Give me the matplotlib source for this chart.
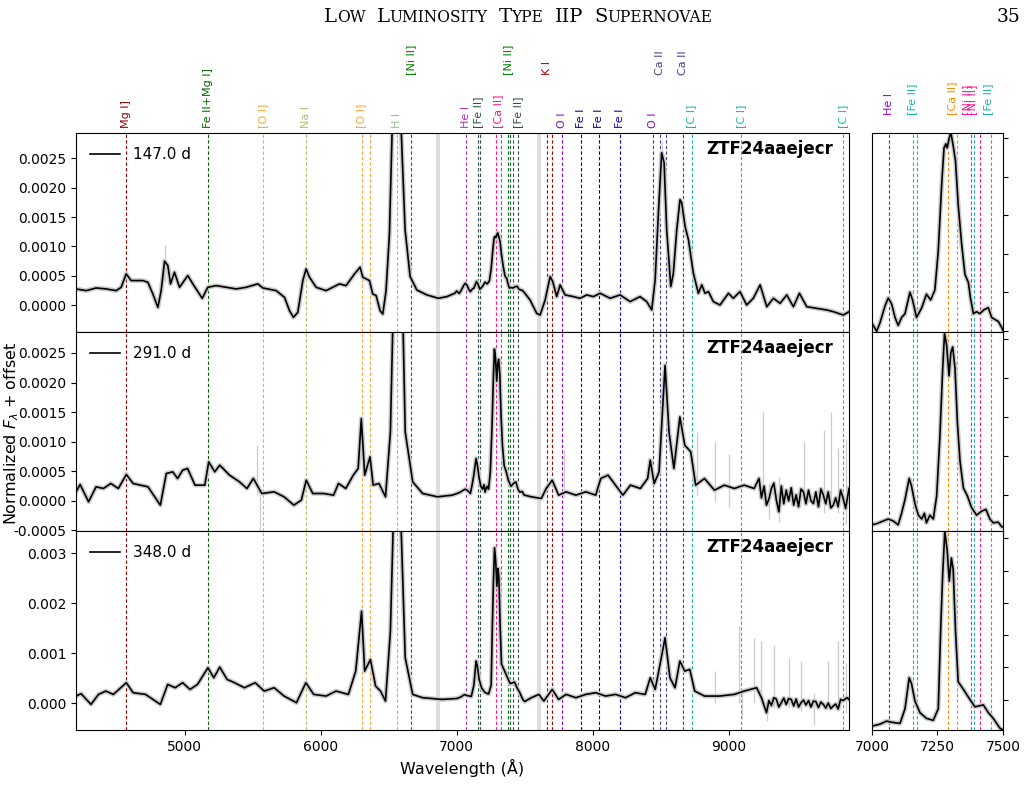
import numpy as np
import matplotlib.pyplot as plt
from matplotlib.ticker import MultipleLocator, FormatStrFormatter
import matplotlib.transforms as mtransforms

# Spectra, (wavelength [A], normalized flux [1e-4])
spec_147 = [
    (4200, 2.74), (4275, 2.45), (4348, 2.91), (4422, 2.74), (4495, 2.45), (4532, 3.02),
    (4569, 5.31), (4605, 4.17), (4691, 4.17), (4728, 3.88), (4765, 1.88), (4802, -0.40),
    (4826, 2.45), (4851, 7.48), (4875, 6.73), (4895, 3.60), (4924, 5.59), (4961, 3.02),
    (5022, 5.02), (5059, 3.60), (5128, 1.14), (5169, 3.02), (5231, 3.31), (5304, 3.02),
    (5378, 2.74), (5451, 3.02), (5537, 3.60), (5574, 2.91), (5672, 2.45), (5733, 1.31),
    (5770, -0.97), (5799, -2.11), (5831, -1.25), (5868, 4.17), (5892, 6.16), (5917, 4.74),
    (5966, 3.02), (6039, 2.45), (6137, 3.60), (6186, 3.31), (6248, 5.31), (6289, 6.45),
    (6309, 4.74), (6358, 4.17), (6382, 1.88), (6407, 1.60), (6436, -0.97), (6456, -1.54),
    (6480, 2.45), (6505, 12.16), (6525, 30.0), (6550, 60.0), (6570, 62.0), (6591, 30.0),
    (6620, 12.85), (6657, 4.86), (6706, 2.57), (6780, 1.72), (6865, 1.15), (6927, 1.43),
    (6985, 2.00),
    (7000, 2.39), (7018, 1.98), (7030, 2.39), (7050, 3.30), (7062, 3.70), (7075, 3.40),
    (7088, 2.69), (7100, 2.28), (7113, 2.69), (7126, 2.89), (7145, 4.00), (7155, 3.60),
    (7170, 2.69), (7190, 3.20), (7208, 3.90), (7224, 3.60), (7240, 4.11), (7253, 6.13),
    (7266, 9.57), (7275, 11.49), (7282, 11.70), (7287, 11.49), (7295, 12.00), (7301, 12.30),
    (7310, 11.60), (7319, 10.79), (7329, 8.56), (7342, 6.54), (7355, 4.92), (7368, 4.51),
    (7376, 3.70), (7387, 2.89), (7399, 2.99), (7412, 2.89), (7427, 3.09), (7444, 3.20),
    (7457, 2.69), (7469, 2.59), (7482, 2.49), (7495, 2.18),
    (7539, 0.86), (7588, -1.42), (7613, -1.71), (7650, 0.86), (7687, 4.86), (7706, 4.00),
    (7735, 1.43), (7760, 3.43), (7797, 1.72), (7858, 1.43), (7907, 1.15), (7956, 1.72),
    (8005, 1.43), (8054, 2.00), (8128, 1.15), (8201, 1.72), (8275, 0.58), (8348, 1.43),
    (8397, 0.58), (8434, -0.85), (8459, 4.29), (8483, 15.70), (8507, 25.97), (8525, 24.26),
    (8544, 12.85), (8574, 3.14), (8593, 5.43), (8618, 12.85), (8642, 17.98), (8655, 17.41),
    (8679, 13.42), (8704, 11.13), (8740, 5.43), (8777, 2.00), (8802, 3.43), (8826, 2.00),
    (8851, 2.29), (8887, 0.58), (8936, 0.00), (8998, 2.00), (9034, 1.15), (9083, 2.29),
    (9132, 0.00), (9181, 1.15), (9231, 3.43), (9280, -0.29), (9329, 1.15), (9378, 0.29),
    (9427, 1.72), (9476, -0.29), (9520, 2.00), (9574, -0.29), (9647, -0.57), (9721, -0.85),
    (9770, -1.14), (9843, -1.71), (9885, -1.14),
]

spec_291 = [
    (4200, 1.52), (4230, 2.76), (4292, -0.17), (4347, 2.37), (4401, 2.09), (4456, 2.93),
    (4511, 2.09), (4570, 4.45), (4620, 2.93), (4729, 2.37), (4820, -0.73), (4864, 4.62),
    (4911, 4.90), (4947, 3.78), (4984, 5.18), (5020, 5.47), (5075, 2.65), (5147, 2.65),
    (5176, 6.59), (5220, 4.90), (5257, 6.03), (5329, 4.34), (5402, 3.21), (5457, 2.09),
    (5504, 3.78), (5566, 1.24), (5657, 1.52), (5730, 0.68), (5802, -0.73), (5857, 0.12),
    (5893, 3.49), (5941, 1.24), (6021, 1.24), (6094, 0.96), (6130, 2.93), (6184, 2.09),
    (6239, 4.34), (6275, 5.47), (6298, 13.91), (6323, 4.34), (6362, 7.44), (6385, 2.65),
    (6428, 2.93), (6476, 0.68), (6512, 11.66), (6535, 35.0), (6562, 60.0), (6600, 35.0),
    (6621, 11.66), (6676, 3.21), (6749, 1.24), (6858, 0.68), (6967, 0.96),
    (7000, 1.23), (7018, 1.38), (7043, 1.72), (7062, 1.97), (7081, 1.72), (7100, 1.23),
    (7113, 2.71), (7126, 4.44), (7142, 7.15), (7151, 6.16), (7164, 3.94), (7177, 2.46),
    (7190, 1.97), (7200, 2.71), (7208, 1.48), (7221, 2.46), (7234, 1.97), (7247, 4.93),
    (7259, 12.33), (7270, 21.21), (7277, 25.65), (7285, 24.17), (7294, 20.23), (7301, 23.19),
    (7308, 23.93), (7317, 21.21), (7326, 14.30), (7336, 9.37), (7349, 5.92), (7364, 4.93),
    (7380, 3.45), (7399, 2.46), (7418, 2.96), (7435, 3.20), (7450, 1.97), (7463, 1.48),
    (7482, 1.57), (7495, 0.98),
    (7549, 0.68), (7622, 0.40), (7658, 2.09), (7702, 3.49), (7749, 0.96), (7804, 1.52),
    (7876, 0.96), (7949, 1.52), (8022, 0.96), (8059, 3.78), (8113, 4.34), (8168, 2.65),
    (8222, 0.96), (8277, 2.65), (8350, 2.09), (8404, 3.78), (8423, 6.87), (8452, 2.93),
    (8488, 4.90), (8532, 22.92), (8561, 11.66), (8597, 5.47), (8641, 14.19), (8677, 9.40),
    (8721, 8.28), (8757, 2.65), (8822, 3.78), (8895, 1.80), (8968, 2.65), (9041, 2.09),
    (9114, 2.65), (9187, 2.09), (9223, 3.78), (9241, 0.50), (9260, 2.50), (9278, -0.73),
    (9296, 0.30), (9314, 2.09), (9332, 3.00), (9350, 0.20), (9369, -1.86), (9387, 2.50),
    (9405, -0.50), (9423, 1.80), (9441, 0.00), (9460, 2.20), (9478, -0.73), (9496, 1.00),
    (9514, -1.00), (9532, 2.00), (9550, 1.52), (9568, -0.50), (9587, 1.80), (9605, 0.00),
    (9623, -0.45), (9641, 1.50), (9660, -1.00), (9678, 2.00), (9696, 0.96), (9714, -0.50),
    (9732, 1.50), (9751, -1.20), (9769, -0.73), (9787, 0.50), (9805, -1.00), (9823, 1.80),
    (9841, 0.50), (9860, -1.30), (9885, 2.09),
]

spec_348 = [
    (4200, 1.40), (4237, 1.87), (4310, -0.27), (4365, 1.73), (4419, 2.40), (4474, 1.73),
    (4570, 4.07), (4620, 2.07), (4711, 1.73), (4820, -0.27), (4874, 3.73), (4929, 3.07),
    (4984, 4.07), (5038, 2.73), (5093, 3.73), (5170, 7.07), (5213, 5.07), (5257, 7.20),
    (5311, 4.73), (5366, 4.07), (5438, 3.07), (5518, 4.07), (5584, 2.40), (5657, 3.07),
    (5730, 1.40), (5821, 0.07), (5890, 4.07), (5948, 1.73), (6039, 1.40), (6112, 2.40),
    (6203, 1.73), (6257, 6.40), (6300, 18.40), (6323, 6.40), (6365, 8.73), (6403, 3.40),
    (6439, 2.40), (6476, 0.40), (6512, 14.40), (6537, 40.0), (6562, 70.0), (6585, 40.0),
    (6621, 9.07), (6676, 1.73), (6749, 1.07), (6894, 0.73),
    (7000, 0.91), (7030, 1.21), (7056, 1.69), (7075, 1.51), (7107, 1.33), (7126, 3.60),
    (7142, 8.40), (7151, 7.50), (7164, 4.80), (7183, 3.01), (7208, 2.11), (7234, 1.81),
    (7253, 3.60), (7262, 15.58), (7270, 24.57), (7278, 31.10), (7287, 28.16), (7295, 23.37),
    (7303, 26.97), (7310, 25.17), (7319, 15.58), (7329, 7.80), (7349, 6.60), (7368, 5.40),
    (7393, 3.90), (7425, 4.20), (7444, 3.01), (7463, 2.11), (7488, 0.61), (7500, 0.31),
    (7549, 1.07), (7604, 1.73), (7640, 0.40), (7702, 2.73), (7749, 0.73), (7804, 1.73),
    (7876, 1.07), (7949, 1.73), (8022, 2.07), (8095, 1.40), (8168, 1.73), (8241, 1.07),
    (8313, 2.07), (8386, 1.73), (8423, 5.07), (8459, 2.73), (8495, 7.73), (8532, 13.07),
    (8568, 5.07), (8605, 3.07), (8641, 8.40), (8677, 6.40), (8714, 6.73), (8750, 2.40),
    (8822, 1.40), (8932, 1.40), (9041, 1.73), (9114, 2.40), (9205, 3.07), (9241, 1.07),
    (9278, -1.93), (9296, 0.50), (9314, -0.50), (9332, 1.07), (9350, 0.80), (9369, -0.80),
    (9387, 0.07), (9405, 1.00), (9423, -0.30), (9441, 0.90), (9460, 0.73), (9478, -0.60),
    (9496, 0.80), (9514, -0.80), (9532, 0.07), (9550, 0.60), (9568, -0.40), (9587, 0.50),
    (9605, -0.80), (9623, 0.40), (9641, 0.30), (9660, -0.90), (9678, 0.20), (9696, -0.27),
    (9714, -1.00), (9732, 0.00), (9751, -1.10), (9769, -0.60), (9787, -0.20), (9805, -1.20),
    (9823, 0.73), (9841, 0.50), (9870, 1.07), (9885, 0.73),
]

# noisy excursions of the raw spectra, (wavelength, high, low) [1e-4]
spikes_147 = [(4851, 10.2, 4.0), (6300, 7.5, 4.5), (8510, 28.0, 22.0)]
spikes_291 = [
    (5530, 9.4, 1.0), (5556, 2.0, -5.1), (7786, 8.6, 0.5), (8769, 11.7, 1.0),
    (8900, 10.0, 0.0), (9000, 8.0, -1.0), (9253, 15.0, 0.0), (9297, 3.0, -3.0),
    (9370, 4.0, -3.5), (9551, 10.0, 0.0), (9700, 12.0, -2.0), (9751, 15.0, -1.0),
    (9806, 9.0, -2.0), (9861, 10.5, -4.0),
]
spikes_348 = [
    (8896, 6.4, 0.0), (9078, 15.4, 0.0), (9097, 2.0, -2.9), (9188, 13.1, 0.0),
    (9240, 12.5, 0.0), (9279, 0.0, -3.6), (9333, 11.7, -1.0), (9442, 9.1, -1.0),
    (9533, 8.5, -1.5), (9624, 2.0, -4.3), (9733, 8.4, -1.0), (9806, 12.4, -1.0),
    (9861, 8.1, -2.0),
]

epochs = ['147.0 d', '291.0 d', '348.0 d']
obj_name = 'ZTF24aaejecr'

# telluric regions
telluric = [(6850, 6875), (7590, 7620)]

# line markers on the full spectrum (wavelength, color)
main_lines = [
    (4571, 'darkred'), (5169, 'darkgreen'), (5577, '#ffa53a'), (5890, 'darkkhaki'),
    (6300, '#ffa53a'), (6364, '#ffa53a'), (6563, '#8fc48f'), (6667, 'green'),
    (7065, '#b030b8'), (7155, 'darkslategray'), (7172, 'darkslategray'),
    (7291, 'deeppink'), (7324, 'deeppink'), (7378, 'green'), (7388, 'darkslategray'),
    (7412, 'green'), (7453, 'darkslategray'), (7665, '#b00000'), (7699, '#b00000'),
    (7774, 'darkviolet'), (7912, 'darkblue'), (8047, 'darkblue'), (8204, 'mediumblue'),
    (8446, 'darkviolet'), (8498, 'darkslateblue'), (8542, 'darkslateblue'),
    (8662, 'darkslateblue'), (8727, 'lightseagreen'), (9094, 'lightseagreen'),
    (9840, 'lightseagreen'),
]
# labels (text, wavelength, color, high row)
main_labels = [
    ('Mg I]', 4571, 'darkred', False), ('Fe II+Mg I]', 5169, 'darkgreen', False),
    ('[O I]', 5577, '#ffa53a', False), ('Na I', 5890, 'darkkhaki', False),
    ('[O I]', 6300, '#ffa53a', False), ('H I', 6563, '#8fc48f', False),
    ('[Ni II]', 6667, 'green', True), ('He I', 7065, '#b030b8', False),
    ('[Fe II]', 7155, 'darkslategray', False), ('[Ca II]', 7307, 'deeppink', False),
    ('[Ni II]', 7378, 'green', True), ('[Fe II]', 7453, 'darkslategray', False),
    ('K I', 7665, '#b00000', True), ('O I', 7774, 'darkviolet', False),
    ('Fe I', 7912, 'darkblue', False), ('Fe I', 8047, 'darkblue', False),
    ('Fe I', 8204, 'mediumblue', False), ('O I', 8446, 'darkviolet', False),
    ('Ca II', 8498, 'darkslateblue', True), ('Ca II', 8662, 'darkslateblue', True),
    ('[C I]', 8727, 'lightseagreen', False), ('[C I]', 9094, 'lightseagreen', False),
    ('[C I]', 9840, 'lightseagreen', False),
]

# line markers on the [Ca II] zoom
zoom_lines = [
    (7065, 'darkviolet'), (7155, 'lightseagreen'), (7172, 'lightseagreen'),
    (7291, 'darkorange'), (7324, 'darkorange'), (7378, 'deeppink'),
    (7388, 'lightseagreen'), (7412, 'deeppink'), (7453, 'lightseagreen'),
]
zoom_labels = [
    ('He I', 7065, 'darkviolet'), ('[Fe II]', 7155, 'lightseagreen'),
    ('[Ca II]', 7307, 'darkorange'), ('[Ni II]', 7362, 'deeppink'),
    ('[Ni II]', 7382, 'deeppink'), ('[Fe II]', 7445, 'lightseagreen'),
]

main_ylims = [(-0.46e-3, 2.93e-3), (-0.51e-3, 2.85e-3), (-0.54e-3, 3.44e-3)]
zoom_ylims = [(1.94e-4, 12.25e-4), (0.44e-4, 25.8e-4), (0.31e-4, 31.1e-4)]

spectra = [spec_147, spec_291, spec_348]
spikes = [spikes_147, spikes_291, spikes_348]

fig = plt.figure(figsize=(10.29, 7.98), dpi=100)

bottoms = [0.5840, 0.3346, 0.0852]
h = 0.2490
axs_main = []
axs_zoom = []
for i in range(3):
    ax = fig.add_axes([0.0739, bottoms[i], 0.7512, h])
    axz = fig.add_axes([0.8474, bottoms[i], 0.1273, h])
    axs_main.append(ax)
    axs_zoom.append(axz)

ls = (0, (3, 2))
gray = '#cbcbcb'
for i in range(3):
    wl, fl = np.array(spectra[i], dtype=float).T
    fl = fl * 1e-4
    sp = np.array(spikes[i], dtype=float)

    # Full spectrum
    ax = axs_main[i]
    for a, b in telluric:
        ax.axvspan(a, b, color='0.87', lw=0, zorder=0.5)
    for w, c in main_lines:
        ax.axvline(w, color=c, ls=ls, lw=0.8, zorder=1)
    ax.vlines(sp[:, 0], sp[:, 2]*1e-4, sp[:, 1]*1e-4, color=gray, lw=0.9, zorder=2)
    ax.plot(wl, fl, color=gray, lw=3.4, zorder=2)
    ax.plot(wl, fl, color='k', lw=1.2, zorder=3, label=epochs[i])
    ax.set_xlim(4200, 9885)
    ax.set_ylim(*main_ylims[i])
    ax.legend(loc='upper left', frameon=False, fontsize=11, handlelength=2.0)
    ax.text(0.98, 0.965, obj_name, transform=ax.transAxes, ha='right', va='top',
            fontsize=12, fontweight='bold')
    if i < 2:
        ax.yaxis.set_major_locator(MultipleLocator(0.0005))
        ax.yaxis.set_major_formatter(FormatStrFormatter('%.4f'))
        ax.tick_params(labelbottom=False)
    else:
        ax.yaxis.set_major_locator(MultipleLocator(0.001))
        ax.yaxis.set_major_formatter(FormatStrFormatter('%.3f'))
        ax.xaxis.set_major_locator(MultipleLocator(1000))
        ax.set_xlabel('Wavelength (Å)', fontsize=11.5)
    ax.tick_params(labelsize=10)

    # [Ca II] zoom
    axz = axs_zoom[i]
    for w, c in zoom_lines:
        axz.axvline(w, color=c, ls=ls, lw=0.8, zorder=1)
    axz.plot(wl, fl, color=gray, lw=3.4, zorder=2)
    axz.plot(wl, fl, color='k', lw=1.2, zorder=3)
    axz.set_xlim(7000, 7500)
    axz.set_ylim(*zoom_ylims[i])
    axz.yaxis.tick_right()
    axz.tick_params(labelright=False, labelsize=10)
    axz.xaxis.set_major_locator(MultipleLocator(250))
    if i < 2:
        axz.tick_params(labelbottom=False)

axs_main[1].set_ylabel(r'Normalized $F_\lambda$ + offset', fontsize=11.5)
axs_main[1].yaxis.set_label_coords(-0.071, 0.49)

# line labels above the top panels
ax = axs_main[0]
trans = mtransforms.blended_transform_factory(ax.transData, ax.transAxes)
for txt, w, c, high in main_labels:
    ax.text(w, 1.293 if high else 1.025, txt, transform=trans, rotation=90,
            ha='center', va='bottom', color=c, fontsize=8)
axz = axs_zoom[0]
transz = mtransforms.blended_transform_factory(axz.transData, axz.transAxes)
for txt, w, c in zoom_labels:
    axz.text(w, 1.091, txt, transform=transz, rotation=90, ha='center', va='bottom',
             color=c, fontsize=8)

# running page header in small caps
words = [[('L', 1), ('OW', 0)], [('L', 1), ('UMINOSITY', 0)], [('T', 1), ('YPE', 0)],
         [('IIP', 1)], [('S', 1), ('UPERNOVAE', 0)]]
r = fig.canvas.get_renderer()
pieces = []
for k, word in enumerate(words):
    for s, big in word:
        t = fig.text(0, 0.973, s, fontsize=14 if big else 11.2, family='DejaVu Serif',
                     va='baseline')
        pieces.append((t, t.get_window_extent(r).width, k))
gap = 11
total = sum(p[1] for p in pieces) + gap*(len(words)-1)
x = 518 - total/2
last = 0
for t, w, k in pieces:
    if k != last:
        x += gap
        last = k
    t.set_x(x/1029)
    x += w
fig.text(1020/1029, 0.973, '35', fontsize=13.5, family='DejaVu Serif', ha='right',
         va='baseline')

fig.savefig('out.png', dpi=100)
